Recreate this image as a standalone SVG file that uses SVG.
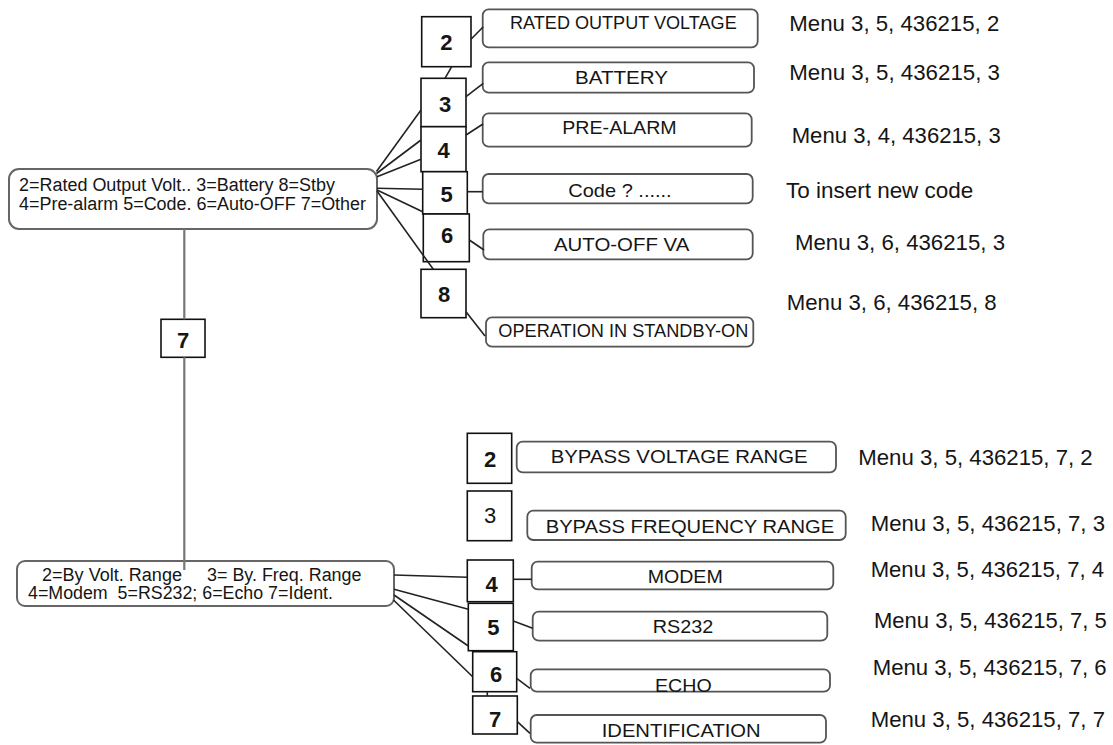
<svg xmlns="http://www.w3.org/2000/svg" width="1113" height="745" viewBox="0 0 1113 745">
<style>
text{font-family:"Liberation Sans",Arial,sans-serif;fill:#151515}
.num{fill:#fff;stroke:#111;stroke-width:1.6}
.lbl{fill:#fff;stroke:#555;stroke-width:1.8}
.node{fill:#fff;stroke:#666;stroke-width:2}
.nt{font-size:22px;text-anchor:middle}
.b{font-weight:bold}
.lt{font-size:19px}
.mt{font-size:21.5px}
.ntx{font-size:18px}
.c{stroke:#222;stroke-width:1.6;fill:none}
.v{stroke:#777;stroke-width:2.2;fill:none}
</style>
<rect width="1113" height="745" fill="#fff"/>

<g id="main-node">
<rect class="node" x="9" y="169" width="368" height="60" rx="10"/>
<text class="ntx" x="19" y="191" textLength="316" lengthAdjust="spacingAndGlyphs">2=Rated Output Volt.. 3=Battery 8=Stby</text>
<text class="ntx" x="19" y="210" textLength="347" lengthAdjust="spacingAndGlyphs">4=Pre-alarm 5=Code. 6=Auto-OFF 7=Other</text>
</g>

<g id="other-node">
<rect class="node" x="17" y="561" width="377" height="45" rx="8"/>
<text class="ntx" x="42" y="580.5" textLength="140" lengthAdjust="spacingAndGlyphs">2=By Volt. Range</text>
<text class="ntx" x="207" y="580.5" textLength="154.5" lengthAdjust="spacingAndGlyphs">3= By. Freq. Range</text>
<text class="ntx" x="28" y="599.3" textLength="305" lengthAdjust="spacingAndGlyphs" xml:space="preserve">4=Modem  5=RS232; 6=Echo 7=Ident.</text>
</g>

<g id="box-7-other">
<rect class="num" x="161" y="319.3" width="44" height="38"/>
<text class="nt b" x="183" y="348.3" font-size="23">7</text>
</g>

<!-- top number boxes -->
<g id="t2"><rect class="num" x="421.7" y="16.7" width="49.3" height="50"/><text class="nt b" x="446.3" y="50">2</text></g>
<g id="t3"><rect class="num" x="421" y="78.3" width="45" height="48.4"/><text class="nt b" x="445" y="111.7">3</text></g>
<g id="t4"><rect class="num" x="421" y="126.7" width="45" height="45"/><text class="nt b" x="443.5" y="158">4</text></g>
<g id="t5"><rect class="num" x="422.7" y="171.7" width="44.6" height="42.3"/><text class="nt b" x="446.7" y="201.7">5</text></g>
<g id="t6"><rect class="num" x="423.3" y="214" width="46" height="47.7"/><text class="nt b" x="447" y="243.3">6</text></g>
<g id="t8"><rect class="num" x="421" y="269.3" width="45" height="48.4"/><text class="nt b" x="444" y="301.7">8</text></g>

<!-- top label boxes -->
<g id="l-rated"><rect class="lbl" x="482.7" y="9.3" width="275" height="38" rx="6"/><text class="lt" x="510" y="29.3" textLength="226.7" lengthAdjust="spacingAndGlyphs">RATED OUTPUT VOLTAGE</text></g>
<g id="l-battery"><rect class="lbl" x="482.7" y="62.3" width="271.3" height="30.4" rx="6"/><text class="lt" x="575" y="84" textLength="93" lengthAdjust="spacingAndGlyphs">BATTERY</text></g>
<g id="l-prealarm"><rect class="lbl" x="482.7" y="113.3" width="269" height="33.4" rx="6"/><text class="lt" x="562.3" y="134" textLength="114.4" lengthAdjust="spacingAndGlyphs">PRE-ALARM</text></g>
<g id="l-code"><rect class="lbl" x="482.7" y="174" width="270" height="29.3" rx="6"/><text class="lt" x="568.3" y="196.7" textLength="103.4" lengthAdjust="spacingAndGlyphs">Code ? ......</text></g>
<g id="l-autooff"><rect class="lbl" x="483.3" y="229.3" width="269.4" height="30" rx="6"/><text class="lt" x="554" y="250.7" textLength="135.3" lengthAdjust="spacingAndGlyphs">AUTO-OFF VA</text></g>
<g id="l-standby"><rect class="lbl" x="486" y="317.3" width="267.3" height="29.4" rx="6"/><text class="lt" x="498.3" y="336.7" textLength="250" lengthAdjust="spacingAndGlyphs">OPERATION IN STANDBY-ON</text></g>

<!-- bottom number boxes -->
<g id="b2"><rect class="num" x="467.3" y="433.3" width="44.4" height="50"/><text class="nt b" x="490" y="466.7">2</text></g>
<g id="b3"><rect class="num" x="467.3" y="491" width="44.4" height="49.7"/><text class="nt" x="490" y="523.3">3</text></g>
<g id="b4"><rect class="num" x="467.3" y="560" width="46" height="41.7"/><text class="nt b" x="491.7" y="591.7">4</text></g>
<g id="b5"><rect class="num" x="468.3" y="603.3" width="45" height="47.4"/><text class="nt b" x="493.3" y="635">5</text></g>
<g id="b6"><rect class="num" x="472.7" y="651.7" width="44" height="40"/><text class="nt b" x="496" y="681.7">6</text></g>
<g id="b7"><rect class="num" x="472.7" y="696" width="44.6" height="38"/><text class="nt b" x="495" y="726.7">7</text></g>

<!-- bottom label boxes -->
<g id="l-bvr"><rect class="lbl" x="516.7" y="441.7" width="319.3" height="30.6" rx="6"/><text class="lt" x="550.7" y="462.7" textLength="257" lengthAdjust="spacingAndGlyphs">BYPASS VOLTAGE RANGE</text></g>
<g id="l-bfr"><rect class="lbl" x="527.3" y="510.7" width="318.4" height="29.3" rx="6"/><text class="lt" x="545.7" y="532.7" textLength="288.6" lengthAdjust="spacingAndGlyphs">BYPASS FREQUENCY RANGE</text></g>
<g id="l-modem"><rect class="lbl" x="531.7" y="561.7" width="301.6" height="27.6" rx="6"/><text class="lt" x="647.7" y="582.7" textLength="75" lengthAdjust="spacingAndGlyphs">MODEM</text></g>
<g id="l-rs232"><rect class="lbl" x="532.7" y="611.7" width="294.6" height="29" rx="6"/><text class="lt" x="652.7" y="633.3" textLength="60.6" lengthAdjust="spacingAndGlyphs">RS232</text></g>
<g id="l-echo"><rect class="lbl" x="530.7" y="669.3" width="299.3" height="22.4" rx="6"/><text class="lt" x="655" y="691.7" textLength="56.7" lengthAdjust="spacingAndGlyphs">ECHO</text></g>
<g id="l-ident"><rect class="lbl" x="530.7" y="715" width="295.3" height="27.7" rx="6"/><text class="lt" x="601.7" y="736.7" textLength="159" lengthAdjust="spacingAndGlyphs">IDENTIFICATION</text></g>

<!-- menu notes -->
<g id="notes">
<text class="mt" x="789.3" y="30.5" textLength="210" lengthAdjust="spacingAndGlyphs">Menu 3, 5, 436215, 2</text>
<text class="mt" x="789.3" y="79.5" textLength="210.7" lengthAdjust="spacingAndGlyphs">Menu 3, 5, 436215, 3</text>
<text class="mt" x="791.7" y="142.5" textLength="209" lengthAdjust="spacingAndGlyphs">Menu 3, 4, 436215, 3</text>
<text class="mt" x="786" y="198" textLength="187.3" lengthAdjust="spacingAndGlyphs">To insert new code</text>
<text class="mt" x="795" y="250" textLength="210" lengthAdjust="spacingAndGlyphs">Menu 3, 6, 436215, 3</text>
<text class="mt" x="786.7" y="310" textLength="210" lengthAdjust="spacingAndGlyphs">Menu 3, 6, 436215, 8</text>
<text class="mt" x="858.3" y="465" textLength="234.4" lengthAdjust="spacingAndGlyphs">Menu 3, 5, 436215, 7, 2</text>
<text class="mt" x="870.7" y="530.7" textLength="234.3" lengthAdjust="spacingAndGlyphs">Menu 3, 5, 436215, 7, 3</text>
<text class="mt" x="870.7" y="576.7" textLength="233.3" lengthAdjust="spacingAndGlyphs">Menu 3, 5, 436215, 7, 4</text>
<text class="mt" x="874" y="628.3" textLength="232.7" lengthAdjust="spacingAndGlyphs">Menu 3, 5, 436215, 7, 5</text>
<text class="mt" x="872.7" y="675" textLength="234" lengthAdjust="spacingAndGlyphs">Menu 3, 5, 436215, 7, 6</text>
<text class="mt" x="870.7" y="726.7" textLength="234.3" lengthAdjust="spacingAndGlyphs">Menu 3, 5, 436215, 7, 7</text>
</g>

<g id="connectors">
<line class="v" x1="184.3" y1="229" x2="184.3" y2="319.3"/>
<line class="v" x1="184.3" y1="357.3" x2="184.3" y2="570"/>
<!-- top fan -->
<line class="c" x1="376.5" y1="171.5" x2="421" y2="110"/>
<line class="c" x1="376.5" y1="173.5" x2="421" y2="140"/>
<line class="c" x1="377" y1="176.7" x2="421" y2="159.3"/>
<line class="c" x1="377" y1="188.3" x2="422.7" y2="189.3"/>
<line class="c" x1="377" y1="190" x2="422.7" y2="211.7"/>
<line class="c" x1="377" y1="191" x2="433.3" y2="269.3"/>
<line class="c" x1="451.7" y1="66.7" x2="445" y2="78.3"/>
<line class="c" x1="471" y1="39.3" x2="483.3" y2="26.7"/>
<line class="c" x1="466" y1="96.7" x2="483.3" y2="83.3"/>
<line class="c" x1="466" y1="135" x2="483" y2="124"/>
<line class="c" x1="467.3" y1="191.7" x2="482.7" y2="191.7"/>
<line class="c" x1="469.3" y1="240" x2="484" y2="250"/>
<line class="c" x1="466" y1="311.7" x2="485" y2="336"/>
<!-- bottom fan -->
<line class="c" x1="394" y1="575" x2="467.3" y2="577.3"/>
<line class="c" x1="513.3" y1="579.3" x2="531.7" y2="579.3"/>
<line class="c" x1="394" y1="589.3" x2="468.3" y2="609.3"/>
<line class="c" x1="513.3" y1="621" x2="532.7" y2="628.3"/>
<line class="c" x1="394" y1="595" x2="468.3" y2="646"/>
<line class="c" x1="393.5" y1="600" x2="472.7" y2="676.7"/>
<line class="c" x1="516.7" y1="678.3" x2="530" y2="688.3"/>
<line class="c" x1="487.3" y1="691.7" x2="487.3" y2="696"/>
<line class="c" x1="517.3" y1="721.7" x2="530" y2="733.3"/>
</g>
</svg>
